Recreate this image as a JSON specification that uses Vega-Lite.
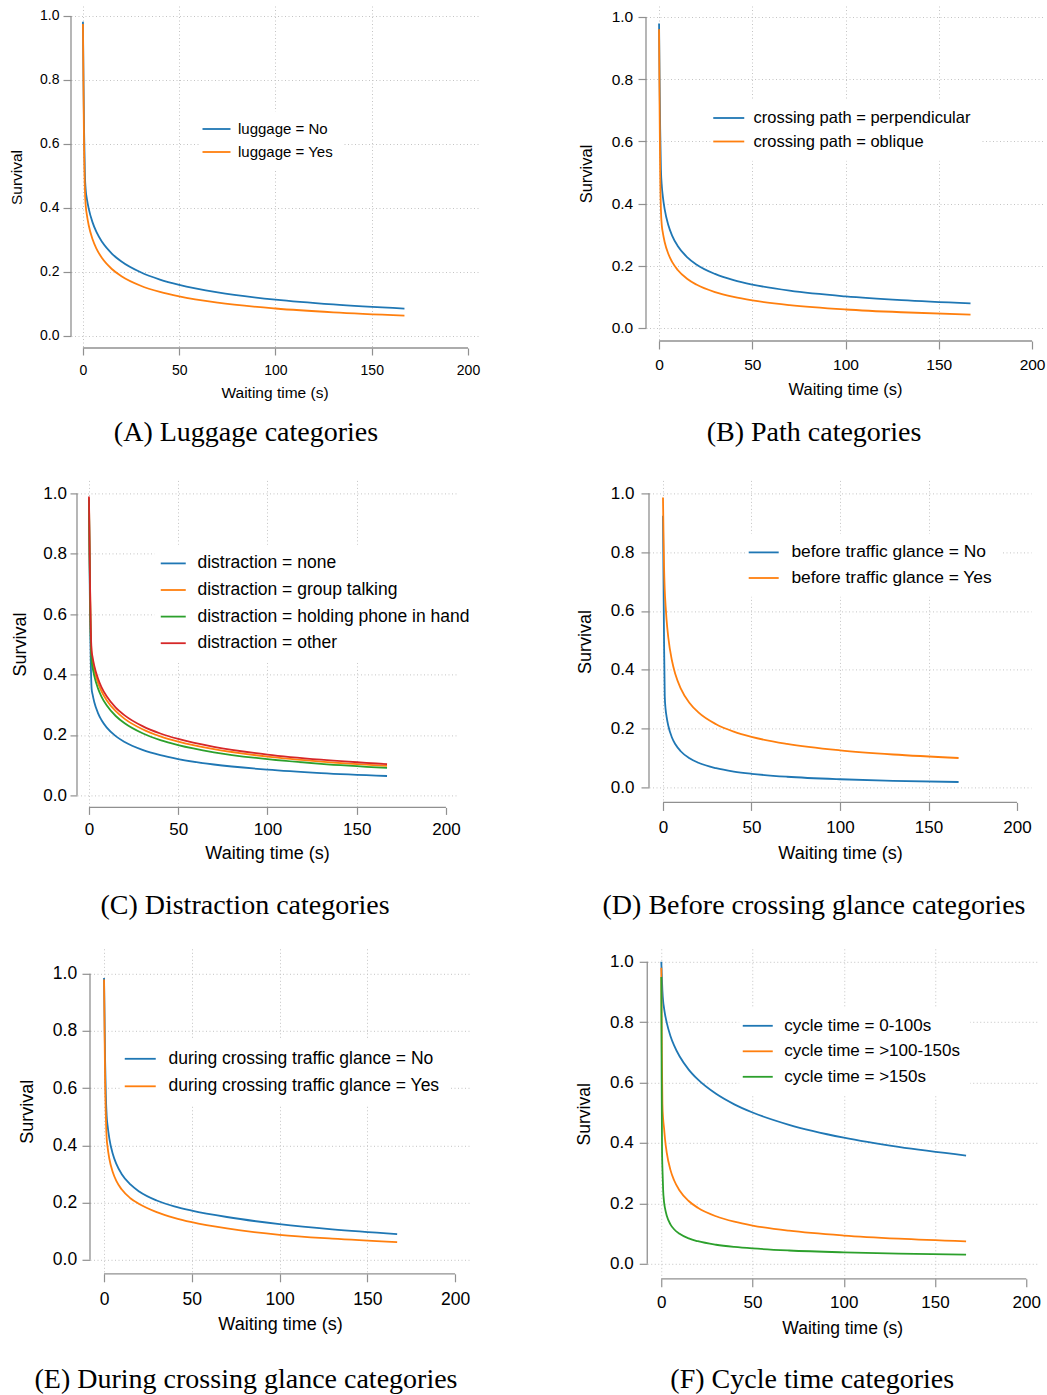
{
"$schema": "https://vega.github.io/schema/vega-lite/v6.json",
"background": "white",
"padding": {"left": 0, "top": 5, "right": 2, "bottom": 2},
"config": {
  "view": {"stroke": null},
  "font": "Liberation Sans",
  "axis": {"domain": false, "ticks": true, "tickColor": "#909090", "tickWidth": 1.2, "grid": true, "gridColor": "#c4c4c4", "gridDash": [1, 2.5], "gridWidth": 1, "labelColor": "#000000", "titleColor": "#000000", "labelFont": "Liberation Sans", "titleFont": "Liberation Sans", "titleFontWeight": "normal", "labelOverlap": false, "labelFlush": false},
  "legend": {"orient": "none", "title": null, "symbolSize": 100, "symbolStrokeWidth": 2, "labelFont": "Liberation Sans", "labelColor": "#000000", "fillColor": "white", "padding": 10, "labelLimit": 0},
  "title": {"font": "Liberation Serif", "fontSize": 28, "fontWeight": "normal", "color": "#000000", "orient": "bottom", "anchor": "middle", "frame": "group"},
  "line": {"strokeWidth": 1.8, "interpolate": "monotone"}
},
"datasets": {
  "A": [
    {"g":"luggage = No","t":0,"s":0.982},{"g":"luggage = No","t":0.3,"s":0.8},{"g":"luggage = No","t":0.6,"s":0.64},{"g":"luggage = No","t":1,"s":0.51},{"g":"luggage = No","t":1.5,"s":0.452},{"g":"luggage = No","t":2,"s":0.43},{"g":"luggage = No","t":3,"s":0.398},{"g":"luggage = No","t":5,"s":0.355},{"g":"luggage = No","t":7,"s":0.325},{"g":"luggage = No","t":10,"s":0.2935},{"g":"luggage = No","t":15,"s":0.2577},{"g":"luggage = No","t":20,"s":0.2327},{"g":"luggage = No","t":30,"s":0.199},{"g":"luggage = No","t":40,"s":0.1763},{"g":"luggage = No","t":50,"s":0.1596},{"g":"luggage = No","t":70,"s":0.1361},{"g":"luggage = No","t":100,"s":0.1135},{"g":"luggage = No","t":130,"s":0.0985},{"g":"luggage = No","t":167,"s":0.0856},
    {"g":"luggage = Yes","t":0,"s":0.975},{"g":"luggage = Yes","t":0.3,"s":0.76},{"g":"luggage = Yes","t":0.6,"s":0.58},{"g":"luggage = Yes","t":1,"s":0.46},{"g":"luggage = Yes","t":1.5,"s":0.4037},{"g":"luggage = Yes","t":2,"s":0.3803},{"g":"luggage = Yes","t":3,"s":0.3461},{"g":"luggage = Yes","t":5,"s":0.3021},{"g":"luggage = Yes","t":7,"s":0.273},{"g":"luggage = Yes","t":10,"s":0.2426},{"g":"luggage = Yes","t":15,"s":0.2093},{"g":"luggage = Yes","t":20,"s":0.1868},{"g":"luggage = Yes","t":30,"s":0.1571},{"g":"luggage = Yes","t":40,"s":0.1376},{"g":"luggage = Yes","t":50,"s":0.1235},{"g":"luggage = Yes","t":70,"s":0.1041},{"g":"luggage = Yes","t":100,"s":0.0859},{"g":"luggage = Yes","t":130,"s":0.0739},{"g":"luggage = Yes","t":167,"s":0.0638}
  ],
  "B": [
    {"g":"crossing path = perpendicular","t":0,"s":0.979},{"g":"crossing path = perpendicular","t":0.3,"s":0.8},{"g":"crossing path = perpendicular","t":0.6,"s":0.64},{"g":"crossing path = perpendicular","t":1,"s":0.51},{"g":"crossing path = perpendicular","t":1.5,"s":0.454},{"g":"crossing path = perpendicular","t":2,"s":0.424},{"g":"crossing path = perpendicular","t":3,"s":0.382},{"g":"crossing path = perpendicular","t":5,"s":0.33},{"g":"crossing path = perpendicular","t":7,"s":0.297},{"g":"crossing path = perpendicular","t":10,"s":0.2636},{"g":"crossing path = perpendicular","t":15,"s":0.2279},{"g":"crossing path = perpendicular","t":20,"s":0.2042},{"g":"crossing path = perpendicular","t":30,"s":0.1736},{"g":"crossing path = perpendicular","t":40,"s":0.1537},{"g":"crossing path = perpendicular","t":50,"s":0.1395},{"g":"crossing path = perpendicular","t":70,"s":0.1198},{"g":"crossing path = perpendicular","t":100,"s":0.1013},{"g":"crossing path = perpendicular","t":130,"s":0.0891},{"g":"crossing path = perpendicular","t":167,"s":0.0787},
    {"g":"crossing path = oblique","t":0,"s":0.96},{"g":"crossing path = oblique","t":0.3,"s":0.7},{"g":"crossing path = oblique","t":0.6,"s":0.5},{"g":"crossing path = oblique","t":1,"s":0.38},{"g":"crossing path = oblique","t":1.5,"s":0.328},{"g":"crossing path = oblique","t":2,"s":0.307},{"g":"crossing path = oblique","t":3,"s":0.2765},{"g":"crossing path = oblique","t":5,"s":0.2376},{"g":"crossing path = oblique","t":7,"s":0.2122},{"g":"crossing path = oblique","t":10,"s":0.1861},{"g":"crossing path = oblique","t":15,"s":0.1581},{"g":"crossing path = oblique","t":20,"s":0.1394},{"g":"crossing path = oblique","t":30,"s":0.1151},{"g":"crossing path = oblique","t":40,"s":0.0995},{"g":"crossing path = oblique","t":50,"s":0.0884},{"g":"crossing path = oblique","t":70,"s":0.0733},{"g":"crossing path = oblique","t":100,"s":0.0593},{"g":"crossing path = oblique","t":130,"s":0.0504},{"g":"crossing path = oblique","t":167,"s":0.0429}
  ],
  "C": [
    {"g":"distraction = none","t":0,"s":0.97},{"g":"distraction = none","t":0.3,"s":0.78},{"g":"distraction = none","t":0.6,"s":0.6},{"g":"distraction = none","t":1,"s":0.45},{"g":"distraction = none","t":1.5,"s":0.3527},{"g":"distraction = none","t":2,"s":0.335},{"g":"distraction = none","t":3,"s":0.3084},{"g":"distraction = none","t":5,"s":0.2733},{"g":"distraction = none","t":7,"s":0.2495},{"g":"distraction = none","t":10,"s":0.2242},{"g":"distraction = none","t":15,"s":0.1959},{"g":"distraction = none","t":20,"s":0.1764},{"g":"distraction = none","t":30,"s":0.1503},{"g":"distraction = none","t":40,"s":0.1328},{"g":"distraction = none","t":50,"s":0.12},{"g":"distraction = none","t":70,"s":0.1021},{"g":"distraction = none","t":100,"s":0.085},{"g":"distraction = none","t":130,"s":0.0737},{"g":"distraction = none","t":167,"s":0.0639},
    {"g":"distraction = group talking","t":0,"s":0.985},{"g":"distraction = group talking","t":0.3,"s":0.84},{"g":"distraction = group talking","t":0.6,"s":0.69},{"g":"distraction = group talking","t":1,"s":0.54},{"g":"distraction = group talking","t":1.5,"s":0.4633},{"g":"distraction = group talking","t":2,"s":0.4438},{"g":"distraction = group talking","t":3,"s":0.414},{"g":"distraction = group talking","t":5,"s":0.3734},{"g":"distraction = group talking","t":7,"s":0.345},{"g":"distraction = group talking","t":10,"s":0.314},{"g":"distraction = group talking","t":15,"s":0.2785},{"g":"distraction = group talking","t":20,"s":0.2533},{"g":"distraction = group talking","t":30,"s":0.2188},{"g":"distraction = group talking","t":40,"s":0.1952},{"g":"distraction = group talking","t":50,"s":0.1777},{"g":"distraction = group talking","t":70,"s":0.1527},{"g":"distraction = group talking","t":100,"s":0.1283},{"g":"distraction = group talking","t":130,"s":0.1119},{"g":"distraction = group talking","t":167,"s":0.0976},
    {"g":"distraction = holding phone in hand","t":0,"s":0.98},{"g":"distraction = holding phone in hand","t":0.3,"s":0.82},{"g":"distraction = holding phone in hand","t":0.6,"s":0.66},{"g":"distraction = holding phone in hand","t":1,"s":0.52},{"g":"distraction = holding phone in hand","t":1.5,"s":0.4435},{"g":"distraction = holding phone in hand","t":2,"s":0.4241},{"g":"distraction = holding phone in hand","t":3,"s":0.3948},{"g":"distraction = holding phone in hand","t":5,"s":0.3549},{"g":"distraction = holding phone in hand","t":7,"s":0.3271},{"g":"distraction = holding phone in hand","t":10,"s":0.2971},{"g":"distraction = holding phone in hand","t":15,"s":0.2627},{"g":"distraction = holding phone in hand","t":20,"s":0.2385},{"g":"distraction = holding phone in hand","t":30,"s":0.2054},{"g":"distraction = holding phone in hand","t":40,"s":0.1829},{"g":"distraction = holding phone in hand","t":50,"s":0.1663},{"g":"distraction = holding phone in hand","t":70,"s":0.1426},{"g":"distraction = holding phone in hand","t":100,"s":0.1196},{"g":"distraction = holding phone in hand","t":130,"s":0.1042},{"g":"distraction = holding phone in hand","t":167,"s":0.0908},
    {"g":"distraction = other","t":0,"s":0.99},{"g":"distraction = other","t":0.3,"s":0.85},{"g":"distraction = other","t":0.6,"s":0.7},{"g":"distraction = other","t":1,"s":0.555},{"g":"distraction = other","t":1.5,"s":0.4782},{"g":"distraction = other","t":2,"s":0.4586},{"g":"distraction = other","t":3,"s":0.4286},{"g":"distraction = other","t":5,"s":0.3875},{"g":"distraction = other","t":7,"s":0.3586},{"g":"distraction = other","t":10,"s":0.3271},{"g":"distraction = other","t":15,"s":0.2907},{"g":"distraction = other","t":20,"s":0.2649},{"g":"distraction = other","t":30,"s":0.2292},{"g":"distraction = other","t":40,"s":0.2048},{"g":"distraction = other","t":50,"s":0.1866},{"g":"distraction = other","t":70,"s":0.1606},{"g":"distraction = other","t":100,"s":0.1351},{"g":"distraction = other","t":130,"s":0.118},{"g":"distraction = other","t":167,"s":0.1031}
  ],
  "D": [
    {"g":"before traffic glance = No","t":0,"s":0.924},{"g":"before traffic glance = No","t":0.3,"s":0.7},{"g":"before traffic glance = No","t":0.6,"s":0.5},{"g":"before traffic glance = No","t":1,"s":0.31},{"g":"before traffic glance = No","t":1.5,"s":0.2647},{"g":"before traffic glance = No","t":2,"s":0.2417},{"g":"before traffic glance = No","t":3,"s":0.2096},{"g":"before traffic glance = No","t":5,"s":0.1707},{"g":"before traffic glance = No","t":7,"s":0.1466},{"g":"before traffic glance = No","t":10,"s":0.123},{"g":"before traffic glance = No","t":15,"s":0.099},{"g":"before traffic glance = No","t":20,"s":0.0838},{"g":"before traffic glance = No","t":30,"s":0.0652},{"g":"before traffic glance = No","t":40,"s":0.0539},{"g":"before traffic glance = No","t":50,"s":0.0463},{"g":"before traffic glance = No","t":70,"s":0.0363},{"g":"before traffic glance = No","t":100,"s":0.0277},{"g":"before traffic glance = No","t":130,"s":0.0225},{"g":"before traffic glance = No","t":167,"s":0.0183},
    {"g":"before traffic glance = Yes","t":0,"s":0.986},{"g":"before traffic glance = Yes","t":0.3,"s":0.86},{"g":"before traffic glance = Yes","t":0.6,"s":0.75},{"g":"before traffic glance = Yes","t":1,"s":0.67},{"g":"before traffic glance = Yes","t":1.5,"s":0.6154},{"g":"before traffic glance = Yes","t":2,"s":0.5719},{"g":"before traffic glance = Yes","t":3,"s":0.5098},{"g":"before traffic glance = Yes","t":5,"s":0.4331},{"g":"before traffic glance = Yes","t":7,"s":0.3848},{"g":"before traffic glance = Yes","t":10,"s":0.3368},{"g":"before traffic glance = Yes","t":15,"s":0.2871},{"g":"before traffic glance = Yes","t":20,"s":0.255},{"g":"before traffic glance = Yes","t":30,"s":0.2148},{"g":"before traffic glance = Yes","t":40,"s":0.1896},{"g":"before traffic glance = Yes","t":50,"s":0.1718},{"g":"before traffic glance = Yes","t":70,"s":0.148},{"g":"before traffic glance = Yes","t":100,"s":0.126},{"g":"before traffic glance = Yes","t":130,"s":0.1119},{"g":"before traffic glance = Yes","t":167,"s":0.1}
  ],
  "E": [
    {"g":"during crossing traffic glance = No","t":0,"s":0.985},{"g":"during crossing traffic glance = No","t":0.3,"s":0.85},{"g":"during crossing traffic glance = No","t":0.6,"s":0.7},{"g":"during crossing traffic glance = No","t":1,"s":0.58},{"g":"during crossing traffic glance = No","t":1.5,"s":0.5024},{"g":"during crossing traffic glance = No","t":2,"s":0.47},{"g":"during crossing traffic glance = No","t":3,"s":0.4247},{"g":"during crossing traffic glance = No","t":5,"s":0.3697},{"g":"during crossing traffic glance = No","t":7,"s":0.335},{"g":"during crossing traffic glance = No","t":10,"s":0.3001},{"g":"during crossing traffic glance = No","t":15,"s":0.2632},{"g":"during crossing traffic glance = No","t":20,"s":0.2388},{"g":"during crossing traffic glance = No","t":30,"s":0.2072},{"g":"during crossing traffic glance = No","t":40,"s":0.1867},{"g":"during crossing traffic glance = No","t":50,"s":0.172},{"g":"during crossing traffic glance = No","t":70,"s":0.1495},{"g":"during crossing traffic glance = No","t":100,"s":0.1246},{"g":"during crossing traffic glance = No","t":130,"s":0.1065},{"g":"during crossing traffic glance = No","t":167,"s":0.09},
    {"g":"during crossing traffic glance = Yes","t":0,"s":0.98},{"g":"during crossing traffic glance = Yes","t":0.3,"s":0.8},{"g":"during crossing traffic glance = Yes","t":0.6,"s":0.63},{"g":"during crossing traffic glance = Yes","t":1,"s":0.51},{"g":"during crossing traffic glance = Yes","t":1.5,"s":0.4248},{"g":"during crossing traffic glance = Yes","t":2,"s":0.3949},{"g":"during crossing traffic glance = Yes","t":3,"s":0.354},{"g":"during crossing traffic glance = Yes","t":5,"s":0.3056},{"g":"during crossing traffic glance = Yes","t":7,"s":0.2757},{"g":"during crossing traffic glance = Yes","t":10,"s":0.2462},{"g":"during crossing traffic glance = Yes","t":15,"s":0.2153},{"g":"during crossing traffic glance = Yes","t":20,"s":0.195},{"g":"during crossing traffic glance = Yes","t":30,"s":0.1666},{"g":"during crossing traffic glance = Yes","t":40,"s":0.1465},{"g":"during crossing traffic glance = Yes","t":50,"s":0.1313},{"g":"during crossing traffic glance = Yes","t":70,"s":0.1094},{"g":"during crossing traffic glance = Yes","t":100,"s":0.0873},{"g":"during crossing traffic glance = Yes","t":130,"s":0.074},{"g":"during crossing traffic glance = Yes","t":167,"s":0.062}
  ],
  "F": [
    {"g":"cycle time = 0-100s","t":0,"s":1.0},{"g":"cycle time = 0-100s","t":0.3,"s":0.95},{"g":"cycle time = 0-100s","t":0.6,"s":0.905},{"g":"cycle time = 0-100s","t":1,"s":0.87},{"g":"cycle time = 0-100s","t":1.5,"s":0.8467},{"g":"cycle time = 0-100s","t":2,"s":0.8275},{"g":"cycle time = 0-100s","t":3,"s":0.7976},{"g":"cycle time = 0-100s","t":5,"s":0.7545},{"g":"cycle time = 0-100s","t":7,"s":0.723},{"g":"cycle time = 0-100s","t":10,"s":0.6869},{"g":"cycle time = 0-100s","t":15,"s":0.643},{"g":"cycle time = 0-100s","t":20,"s":0.6103},{"g":"cycle time = 0-100s","t":30,"s":0.5626},{"g":"cycle time = 0-100s","t":40,"s":0.5278},{"g":"cycle time = 0-100s","t":50,"s":0.5008},{"g":"cycle time = 0-100s","t":70,"s":0.46},{"g":"cycle time = 0-100s","t":100,"s":0.4173},{"g":"cycle time = 0-100s","t":130,"s":0.3866},{"g":"cycle time = 0-100s","t":167,"s":0.3581},
    {"g":"cycle time = >100-150s","t":0,"s":0.98},{"g":"cycle time = >100-150s","t":0.3,"s":0.7},{"g":"cycle time = >100-150s","t":0.6,"s":0.53},{"g":"cycle time = >100-150s","t":1,"s":0.48},{"g":"cycle time = >100-150s","t":1.5,"s":0.4494},{"g":"cycle time = >100-150s","t":2,"s":0.4147},{"g":"cycle time = >100-150s","t":3,"s":0.367},{"g":"cycle time = >100-150s","t":5,"s":0.3108},{"g":"cycle time = >100-150s","t":7,"s":0.2763},{"g":"cycle time = >100-150s","t":10,"s":0.2425},{"g":"cycle time = >100-150s","t":15,"s":0.2077},{"g":"cycle time = >100-150s","t":20,"s":0.1853},{"g":"cycle time = >100-150s","t":30,"s":0.1571},{"g":"cycle time = >100-150s","t":40,"s":0.1392},{"g":"cycle time = >100-150s","t":50,"s":0.1265},{"g":"cycle time = >100-150s","t":70,"s":0.1093},{"g":"cycle time = >100-150s","t":100,"s":0.0933},{"g":"cycle time = >100-150s","t":130,"s":0.0829},{"g":"cycle time = >100-150s","t":167,"s":0.074},
    {"g":"cycle time = >150s","t":0,"s":0.95},{"g":"cycle time = >150s","t":0.2,"s":0.6},{"g":"cycle time = >150s","t":0.4,"s":0.38},{"g":"cycle time = >150s","t":0.7,"s":0.3},{"g":"cycle time = >150s","t":1,"s":0.245},{"g":"cycle time = >150s","t":1.5,"s":0.205},{"g":"cycle time = >150s","t":2,"s":0.1846},{"g":"cycle time = >150s","t":3,"s":0.1587},{"g":"cycle time = >150s","t":5,"s":0.1304},{"g":"cycle time = >150s","t":7,"s":0.1142},{"g":"cycle time = >150s","t":10,"s":0.0989},{"g":"cycle time = >150s","t":15,"s":0.0838},{"g":"cycle time = >150s","t":20,"s":0.0744},{"g":"cycle time = >150s","t":30,"s":0.0628},{"g":"cycle time = >150s","t":40,"s":0.0556},{"g":"cycle time = >150s","t":50,"s":0.0505},{"g":"cycle time = >150s","t":70,"s":0.0437},{"g":"cycle time = >150s","t":100,"s":0.0375},{"g":"cycle time = >150s","t":130,"s":0.0334},{"g":"cycle time = >150s","t":167,"s":0.03}
  ]
},
"resolve": {"scale": {"x": "independent", "y": "independent", "color": "independent"}, "legend": {"color": "independent"}},
"spacing": 32.4,
"vconcat": [
  {
    "resolve": {"scale": {"x": "independent", "y": "independent", "color": "independent"}, "legend": {"color": "independent"}},
    "spacing": 98,
    "hconcat": [
      {
        "spacing": 0,
        "resolve": {"scale": {"x": "independent", "y": "independent", "color": "independent"}, "legend": {"color": "independent"}},
        "hconcat": [
          {"width": 8.25, "height": 5, "data": {"values": [{}]}, "mark": {"type": "point", "opacity": 0}, "encoding": {}},
          {
            "width": 407, "height": 342,
            "title": {"text": "(A) Luggage categories", "dx": -28.5, "offset": 17.8},
            "layer": [
              {"data": {"name": "A"}, "mark": {"type": "line"},
               "encoding": {
                 "x": {"field": "t", "type": "quantitative", "scale": {"domain": [-6.2, 205.2], "nice": false, "zero": false},
                       "axis": {"values": [0, 50, 100, 150, 200], "title": "Waiting time (s)", "tickSize": 7, "labelFontSize": 14, "labelPadding": 8, "titleFontSize": 15.5, "titlePadding": 8.3, "gridOpacity": {"condition": {"test": "datum.value == 200", "value": 0}, "value": 1}}},
                 "y": {"field": "s", "type": "quantitative", "scale": {"domain": [-0.0375, 1.031], "nice": false, "zero": false},
                       "axis": {"values": [0, 0.2, 0.4, 0.6, 0.8, 1], "format": ".1f", "title": "Survival", "tickSize": 8, "labelFontSize": 14, "labelPadding": 4, "titleFontSize": 15.5, "titlePadding": 14.75}},
                 "color": {"field": "g", "type": "nominal", "scale": {"domain": ["luggage = No", "luggage = Yes"], "range": ["#1f77b4", "#ff7f0e"]},
                       "legend": {"legendX": 128, "legendY": 105.5, "symbolType": "M-2.8,0H2.8", "labelOffset": 14, "labelFontSize": 15, "rowPadding": 7}}
               }},
              {"data": {"values": [{}]}, "mark": {"type": "rule", "color": "#909090", "strokeWidth": 1.3},
               "encoding": {"x": {"datum": 0, "type": "quantitative"}, "x2": {"datum": 200}, "y": {"datum": -0.0375, "type": "quantitative"}}},
              {"data": {"values": [{}]}, "mark": {"type": "rule", "color": "#909090", "strokeWidth": 1.3},
               "encoding": {"x": {"datum": -6.2, "type": "quantitative"}, "y": {"datum": 0, "type": "quantitative"}, "y2": {"datum": 1}}}
            ]
          }
        ]
      },
      {
        "width": 398, "height": 335,
        "title": {"text": "(B) Path categories", "dx": -31, "offset": 20.2},
        "layer": [
          {"data": {"name": "B"}, "mark": {"type": "line"},
           "encoding": {
             "x": {"field": "t", "type": "quantitative", "scale": {"domain": [-7, 206.4], "nice": false, "zero": false},
                   "axis": {"values": [0, 50, 100, 150, 200], "title": "Waiting time (s)", "tickSize": 8, "labelFontSize": 15.5, "labelPadding": 8.3, "titleFontSize": 16.5, "titlePadding": 9.1, "gridOpacity": {"condition": {"test": "datum.value == 200", "value": 0}, "value": 1}}},
             "y": {"field": "s", "type": "quantitative", "scale": {"domain": [-0.042, 1.035], "nice": false, "zero": false},
                   "axis": {"values": [0, 0.2, 0.4, 0.6, 0.8, 1], "format": ".1f", "title": "Survival", "tickSize": 8, "labelFontSize": 15.5, "labelPadding": 5.3, "titleFontSize": 16.5, "titlePadding": 17}},
             "color": {"field": "g", "type": "nominal", "scale": {"domain": ["crossing path = perpendicular", "crossing path = oblique"], "range": ["#1f77b4", "#ff7f0e"]},
                   "legend": {"legendX": 64.5, "legendY": 93.75, "symbolType": "M-3.1,0H3.1", "labelOffset": 16.5, "labelFontSize": 16.5, "rowPadding": 6.5}}
           }},
          {"data": {"values": [{}]}, "mark": {"type": "rule", "color": "#909090", "strokeWidth": 1.3},
           "encoding": {"x": {"datum": 0, "type": "quantitative"}, "x2": {"datum": 200}, "y": {"datum": -0.042, "type": "quantitative"}}},
          {"data": {"values": [{}]}, "mark": {"type": "rule", "color": "#909090", "strokeWidth": 1.3},
           "encoding": {"x": {"datum": -7, "type": "quantitative"}, "y": {"datum": 0, "type": "quantitative"}, "y2": {"datum": 1}}}
        ]
      }
    ]
  },
  {
    "resolve": {"scale": {"x": "independent", "y": "independent", "color": "independent"}, "legend": {"color": "independent"}},
    "spacing": 27.4,
    "vconcat": [
      {
        "resolve": {"scale": {"x": "independent", "y": "independent", "color": "independent"}, "legend": {"color": "independent"}},
        "spacing": 96,
        "hconcat": [
          {
            "spacing": 0,
            "resolve": {"scale": {"x": "independent", "y": "independent", "color": "independent"}, "legend": {"color": "independent"}},
            "hconcat": [
              {"width": 11, "height": 5, "data": {"values": [{}]}, "mark": {"type": "point", "opacity": 0}, "encoding": {}},
              {
                "width": 380, "height": 327,
                "title": {"text": "(C) Distraction categories", "dx": -22, "offset": 29.3},
                "layer": [
                  {"data": {"name": "C"}, "mark": {"type": "line"},
                   "encoding": {
                     "x": {"field": "t", "type": "quantitative", "scale": {"domain": [-6.7, 206.2], "nice": false, "zero": false},
                           "axis": {"values": [0, 50, 100, 150, 200], "title": "Waiting time (s)", "tickSize": 7, "labelFontSize": 17, "labelPadding": 6.7, "titleFontSize": 18, "titlePadding": 7.6, "gridOpacity": {"condition": {"test": "datum.value == 200", "value": 0}, "value": 1}}},
                     "y": {"field": "s", "type": "quantitative", "scale": {"domain": [-0.04, 1.043], "nice": false, "zero": false},
                           "axis": {"values": [0, 0.2, 0.4, 0.6, 0.8, 1], "format": ".1f", "title": "Survival", "tickSize": 7, "labelFontSize": 17, "labelPadding": 3.5, "titleFontSize": 18, "titlePadding": 13}},
                     "color": {"field": "g", "type": "nominal", "scale": {"domain": ["distraction = none", "distraction = group talking", "distraction = holding phone in hand", "distraction = other"], "range": ["#1f77b4", "#ff7f0e", "#2ca02c", "#d62728"]},
                           "legend": {"legendX": 77.5, "legendY": 64.25, "symbolType": "M-2.5,0H2.5", "labelOffset": 15.5, "labelFontSize": 17.5, "rowPadding": 7.6}}
                   }},
                  {"data": {"values": [{}]}, "mark": {"type": "rule", "color": "#909090", "strokeWidth": 1.3},
                   "encoding": {"x": {"datum": 0, "type": "quantitative"}, "x2": {"datum": 200}, "y": {"datum": -0.04, "type": "quantitative"}}},
                  {"data": {"values": [{}]}, "mark": {"type": "rule", "color": "#909090", "strokeWidth": 1.3},
                   "encoding": {"x": {"datum": -6.7, "type": "quantitative"}, "y": {"datum": 0, "type": "quantitative"}, "y2": {"datum": 1}}}
                ]
              }
            ]
          },
          {
            "width": 382, "height": 322,
            "title": {"text": "(D) Before crossing glance categories", "dx": -26, "offset": 29.6},
            "layer": [
              {"data": {"name": "D"}, "mark": {"type": "line"},
               "encoding": {
                 "x": {"field": "t", "type": "quantitative", "scale": {"domain": [-7.9, 207.9], "nice": false, "zero": false},
                       "axis": {"values": [0, 50, 100, 150, 200], "title": "Waiting time (s)", "tickSize": 8, "labelFontSize": 17, "labelPadding": 8.7, "titleFontSize": 18, "titlePadding": 9.3, "gridOpacity": {"condition": {"test": "datum.value == 200", "value": 0}, "value": 1}}},
                 "y": {"field": "s", "type": "quantitative", "scale": {"domain": [-0.051, 1.044], "nice": false, "zero": false},
                       "axis": {"values": [0, 0.2, 0.4, 0.6, 0.8, 1], "format": ".1f", "title": "Survival", "tickSize": 8, "labelFontSize": 17, "labelPadding": 7, "titleFontSize": 18, "titlePadding": 15.4}},
                 "color": {"field": "g", "type": "nominal", "scale": {"domain": ["before traffic glance = No", "before traffic glance = Yes"], "range": ["#1f77b4", "#ff7f0e"]},
                       "legend": {"legendX": 96, "legendY": 53.3, "symbolType": "M-3,0H3", "labelOffset": 19, "labelFontSize": 17.4, "rowPadding": 6.6}}
               }},
              {"data": {"values": [{}]}, "mark": {"type": "rule", "color": "#909090", "strokeWidth": 1.3},
               "encoding": {"x": {"datum": 0, "type": "quantitative"}, "x2": {"datum": 200}, "y": {"datum": -0.051, "type": "quantitative"}}},
              {"data": {"values": [{}]}, "mark": {"type": "rule", "color": "#909090", "strokeWidth": 1.3},
               "encoding": {"x": {"datum": -7.9, "type": "quantitative"}, "y": {"datum": 0, "type": "quantitative"}, "y2": {"datum": 1}}}
            ]
          }
        ]
      },
      {
        "resolve": {"scale": {"x": "independent", "y": "independent", "color": "independent"}, "legend": {"color": "independent"}},
        "spacing": 105.25,
        "hconcat": [
          {
            "spacing": 0,
            "resolve": {"scale": {"x": "independent", "y": "independent", "color": "independent"}, "legend": {"color": "independent"}},
            "hconcat": [
              {"width": 17.7, "height": 5, "data": {"values": [{}]}, "mark": {"type": "point", "opacity": 0}, "encoding": {}},
              {
                "width": 380, "height": 325,
                "title": {"text": "(E) During crossing glance categories", "dx": -34, "offset": 32.6},
                "layer": [
                  {"data": {"name": "E"}, "mark": {"type": "line"},
                   "encoding": {
                     "x": {"field": "t", "type": "quantitative", "scale": {"domain": [-8, 208.5], "nice": false, "zero": false},
                           "axis": {"values": [0, 50, 100, 150, 200], "title": "Waiting time (s)", "tickSize": 8, "labelFontSize": 17.5, "labelPadding": 8.4, "titleFontSize": 18, "titlePadding": 8.1, "gridOpacity": {"condition": {"test": "datum.value == 200", "value": 0}, "value": 1}}},
                     "y": {"field": "s", "type": "quantitative", "scale": {"domain": [-0.049, 1.087], "nice": false, "zero": false},
                           "axis": {"values": [0, 0.2, 0.4, 0.6, 0.8, 1], "format": ".1f", "title": "Survival", "tickSize": 8, "labelFontSize": 17.5, "labelPadding": 5.3, "titleFontSize": 18, "titlePadding": 15.7}},
                     "color": {"field": "g", "type": "nominal", "scale": {"domain": ["during crossing traffic glance = No", "during crossing traffic glance = Yes"], "range": ["#1f77b4", "#ff7f0e"]},
                           "legend": {"legendX": 31.5, "legendY": 91.25, "symbolType": "M-3.1,0H3.1", "labelOffset": 19.5, "labelFontSize": 17.5, "rowPadding": 8.5}}
                   }},
                  {"data": {"values": [{}]}, "mark": {"type": "rule", "color": "#909090", "strokeWidth": 1.3},
                   "encoding": {"x": {"datum": 0, "type": "quantitative"}, "x2": {"datum": 200}, "y": {"datum": -0.049, "type": "quantitative"}}},
                  {"data": {"values": [{}]}, "mark": {"type": "rule", "color": "#909090", "strokeWidth": 1.3},
                   "encoding": {"x": {"datum": -8, "type": "quantitative"}, "y": {"datum": 0, "type": "quantitative"}, "y2": {"datum": 1}}}
                ]
              }
            ]
          },
          {
            "width": 390, "height": 330,
            "title": {"text": "(F) Cycle time categories", "dx": -30, "offset": 29.6},
            "layer": [
              {"data": {"name": "F"}, "mark": {"type": "line"},
               "encoding": {
                 "x": {"field": "t", "type": "quantitative", "scale": {"domain": [-7.7, 206], "nice": false, "zero": false},
                       "axis": {"values": [0, 50, 100, 150, 200], "title": "Waiting time (s)", "tickSize": 8, "labelFontSize": 17, "labelPadding": 7.7, "titleFontSize": 17.5, "titlePadding": 8.8, "gridOpacity": {"condition": {"test": "datum.value == 200", "value": 0}, "value": 1}}},
                 "y": {"field": "s", "type": "quantitative", "scale": {"domain": [-0.05, 1.043], "nice": false, "zero": false},
                       "axis": {"values": [0, 0.2, 0.4, 0.6, 0.8, 1], "format": ".1f", "title": "Survival", "tickSize": 8, "labelFontSize": 17, "labelPadding": 6, "titleFontSize": 17.5, "titlePadding": 15.65}},
                 "color": {"field": "g", "type": "nominal", "scale": {"domain": ["cycle time = 0-100s", "cycle time = >100-150s", "cycle time = >150s"], "range": ["#1f77b4", "#ff7f0e", "#2ca02c"]},
                       "legend": {"legendX": 92, "legendY": 58.5, "symbolType": "M-3,0H3", "labelOffset": 18, "labelFontSize": 17, "rowPadding": 7.5}}
               }},
              {"data": {"values": [{}]}, "mark": {"type": "rule", "color": "#909090", "strokeWidth": 1.3},
               "encoding": {"x": {"datum": 0, "type": "quantitative"}, "x2": {"datum": 200}, "y": {"datum": -0.05, "type": "quantitative"}}},
              {"data": {"values": [{}]}, "mark": {"type": "rule", "color": "#909090", "strokeWidth": 1.3},
               "encoding": {"x": {"datum": -7.7, "type": "quantitative"}, "y": {"datum": 0, "type": "quantitative"}, "y2": {"datum": 1}}}
            ]
          }
        ]
      }
    ]
  }
]
}
